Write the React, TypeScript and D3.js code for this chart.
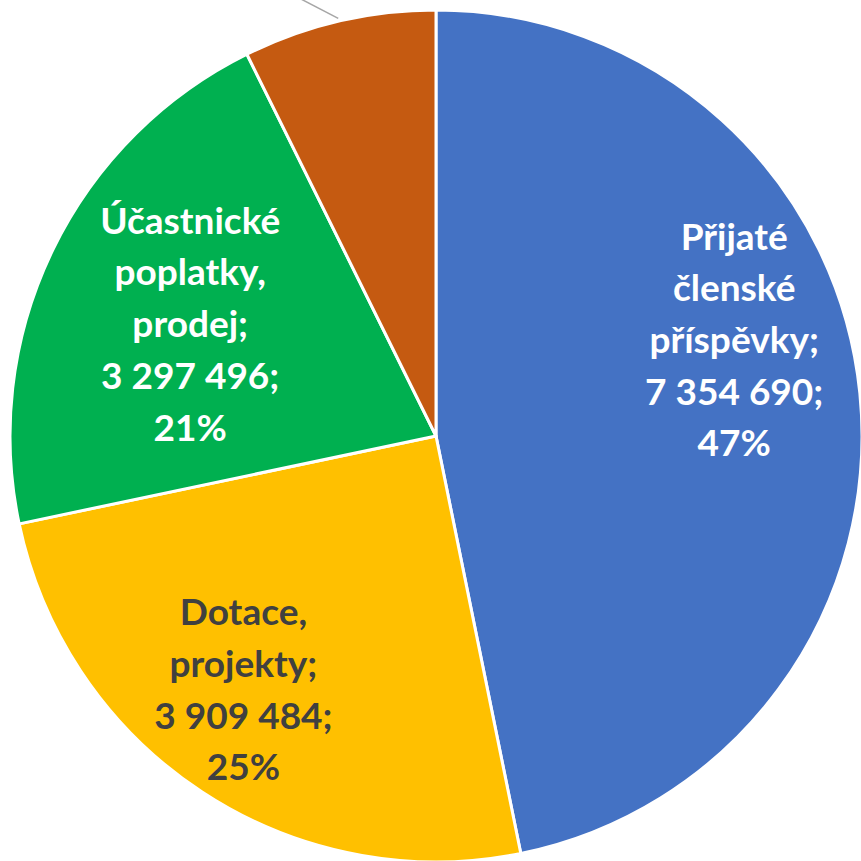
import React from "react";
import * as d3 from "d3";

const categories = [
  "Přijaté členské příspěvky",
  "Dotace, projekty",
  "Účastnické poplatky, prodej",
  "Ostatní",
];
const categoryLines = [
  ["Přijaté", "členské", "příspěvky;"],
  ["Dotace,", "projekty;"],
  ["Účastnické", "poplatky,", "prodej;"],
  ["Ostatní;"],
];
const values = [7354690, 3909484, 3297496, 1150000];
const colors = ["#4472C4", "#FFC000", "#00B050", "#C55A11"];
const labelColors = ["#FFFFFF", "#404040", "#FFFFFF", "#404040"];

const W = 861;
const H = 861;
const CX = 436;
const CY = 436;
const R = 426;
// label anchor relative to pie center, in units of radius (null = outside label, off canvas)
const labelPos: ([number, number] | null)[] = [
  [0.7, -0.195],
  [-0.452, 0.626],
  [-0.577, -0.232],
  null,
];
const LINE_H = 51.7;
const FONT = 37;

const locale = d3.formatLocale({
  decimal: ",",
  thousands: " ",
  grouping: [3],
  currency: ["", " Kč"],
});
const fmt = locale.format(",d");

export default function App() {
  const total = d3.sum(values);
  const data = values.map((v, i) => ({ v, i }));
  const pie = d3
    .pie<{ v: number; i: number }>()
    .sort(null)
    .value((d) => d.v)
    .startAngle(0)
    .endAngle(2 * Math.PI);
  const arcs = pie(data);
  const arc = d3
    .arc<d3.PieArcDatum<{ v: number; i: number }>>()
    .innerRadius(0)
    .outerRadius(R);

  return (
    <svg
      width={W}
      height={H}
      style={{ position: "absolute", left: 0, top: 0, background: "#fff" }}
    >
      <g transform={`translate(${CX},${CY})`}>
        {arcs.map((a) => (
          <path
            key={a.index}
            d={arc(a) || ""}
            fill={colors[a.data.i]}
            stroke="#FFFFFF"
            strokeWidth={3}
            strokeLinejoin="round"
          />
        ))}
        {arcs.map((a) => {
          const i = a.data.i;
          const pos = labelPos[i];
          const pct = Math.round((a.data.v / total) * 100) + "%";
          const lines = [...categoryLines[i], fmt(a.data.v) + ";", pct];
          if (!pos) {
            const mid = (a.startAngle + a.endAngle) / 2;
            const sx = Math.sin(mid) * (R + 3);
            const sy = -Math.cos(mid) * (R + 3);
            return (
              <line
                key={"l" + i}
                x1={sx}
                y1={sy}
                x2={sx - 60}
                y2={sy - 31}
                stroke="#A6A6A6"
                strokeWidth={1.5}
              />
            );
          }
          const ax = pos[0] * R;
          const ay = pos[1] * R;
          const n = lines.length;
          return (
            <text
              key={"t" + i}
              textAnchor="middle"
              fill={labelColors[i]}
              fontFamily="Lato, 'Open Sans', sans-serif"
              fontWeight={700}
              fontSize={FONT}
            >
              {lines.map((ln, k) => (
                <tspan key={k} x={ax} y={ay + (k - (n - 1) / 2) * LINE_H}>
                  {ln}
                </tspan>
              ))}
            </text>
          );
        })}
      </g>
    </svg>
  );
}
